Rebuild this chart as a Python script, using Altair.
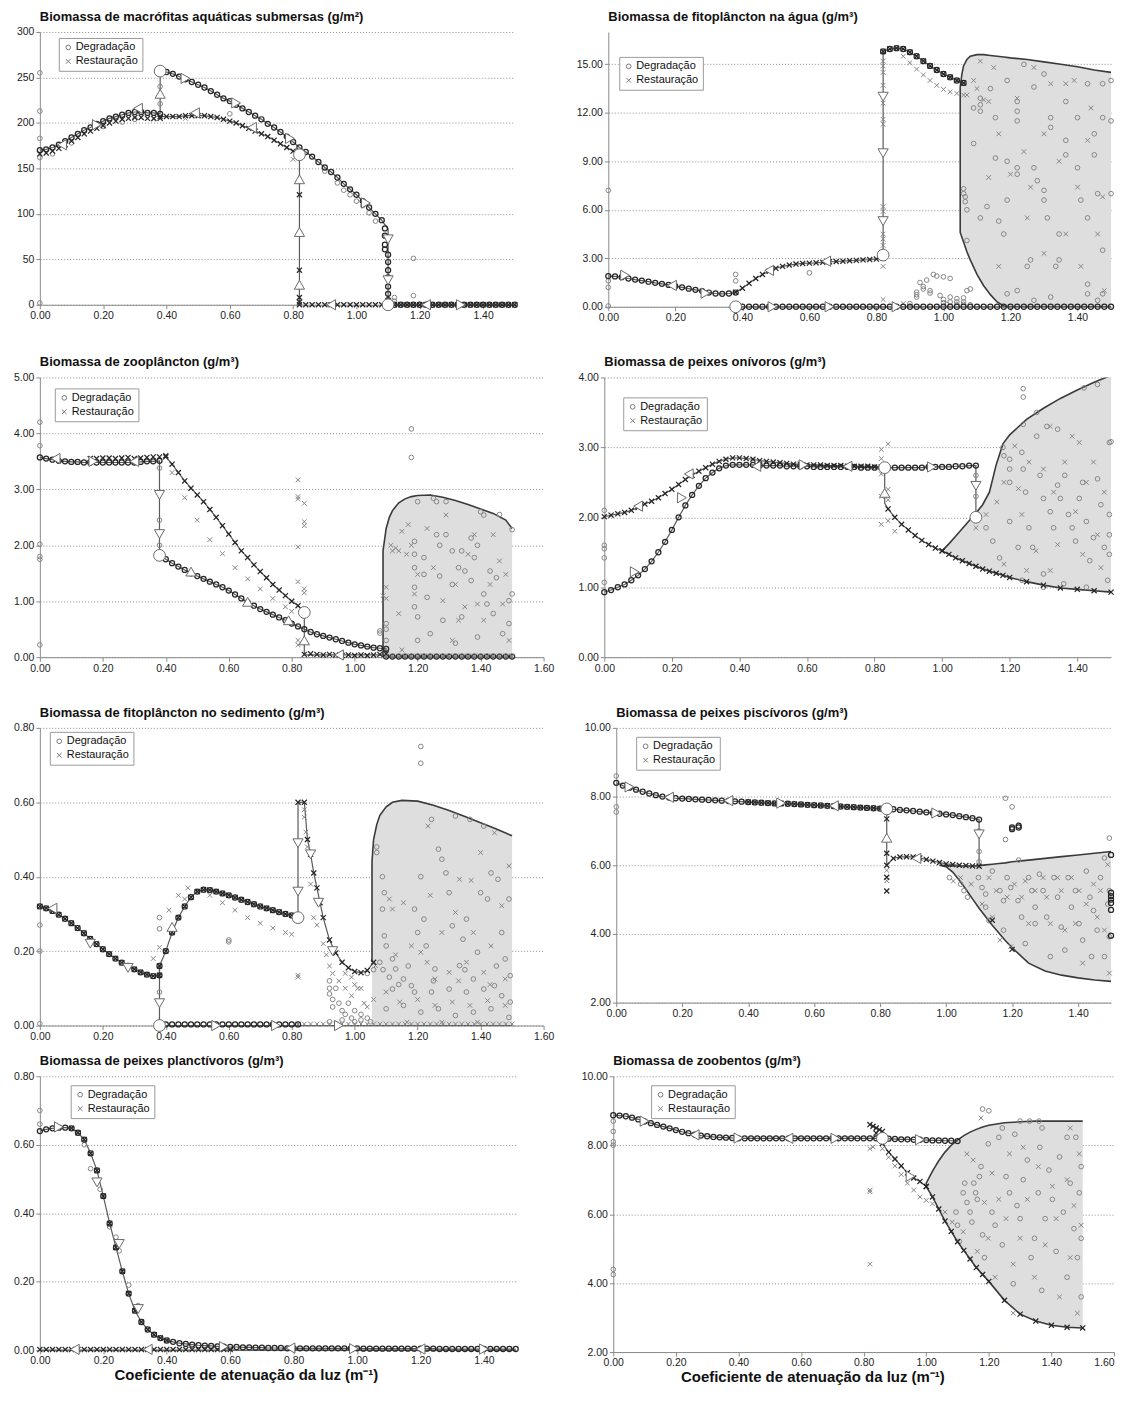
import altair as alt
import pandas as pd

FONT = "Liberation Sans"
XPATH = "M-1,-1L1,1M-1,1L1,-1"
DEG, RES = "Degradação", "Restauração"
DARK, LIGHT = "#262626", "#858585"

X_TICKS_15 = [0.0, 0.2, 0.4, 0.6, 0.8, 1.0, 1.2, 1.4]
X_TICKS_16 = [0.0, 0.2, 0.4, 0.6, 0.8, 1.0, 1.2, 1.4, 1.6]

X_000_038 = [0.00, 0.02, 0.04, 0.06, 0.08, 0.10, 0.12, 0.14, 0.16, 0.18, 0.20, 0.22, 0.24, 0.26, 0.28, 0.30, 0.32, 0.34, 0.36, 0.38]
X_038_082 = [0.38, 0.40, 0.42, 0.44, 0.46, 0.48, 0.50, 0.52, 0.54, 0.56, 0.58, 0.60, 0.62, 0.64, 0.66, 0.68, 0.70, 0.72, 0.74, 0.76, 0.78, 0.80, 0.82]
X_082_150 = [0.82, 0.84, 0.86, 0.88, 0.90, 0.92, 0.94, 0.96, 0.98, 1.00, 1.02, 1.04, 1.06, 1.08, 1.10, 1.12, 1.14, 1.16, 1.18, 1.20, 1.22, 1.24, 1.26, 1.28, 1.30, 1.32, 1.34, 1.36, 1.38, 1.40, 1.42, 1.44, 1.46, 1.48, 1.50]
X_038_150 = X_038_082 + X_082_150[1:]
X_000_110 = X_000_038 + X_038_082[1:] + X_082_150[1:15]
X_000_150 = X_000_038 + X_038_082[1:] + X_082_150[1:]
X_000_082 = X_000_038 + X_038_082[1:]

# ---------------- Panel 1: macrófitas ----------------
P1_LOW_DEG = [170, 171, 173, 176, 180, 184, 188, 192, 195, 199, 202, 205, 207, 209, 211, 212, 212, 211, 211, 210]
P1_LOW_RES = [166, 167, 169, 172, 176, 180, 184, 188, 191, 194, 197, 200, 202, 204, 205, 206, 206, 205, 205, 205]
P1_UP_X = X_038_082[1:] + X_082_150[1:14]
P1_UP_DEG = [256, 254, 251, 248, 245, 242, 239, 235, 231, 227, 224, 220, 216, 212, 208, 204, 199, 195, 190, 185,
             179, 173, 168, 163, 157, 151, 146, 140, 133, 127, 121, 114, 107, 100, 93]
P1_MID_RES = [207, 207, 207, 207, 208, 208, 208, 208, 207, 206, 204, 202, 200, 197, 194, 191, 188, 185, 181, 177, 173, 169, 165]
P1_DROP_DEG = [(1.09, 84), (1.09, 76), (1.09, 66), (1.09, 61), (1.10, 55), (1.10, 47), (1.10, 38), (1.10, 30), (1.10, 20), (1.10, 12), (1.10, 5)]
P1_JUMP_RES = [(0.82, 121), (0.82, 38), (0.82, 8), (0.82, 3)]
P1_SC_DEG = [(0.00, 255), (0.00, 213), (0.00, 183), (0.00, 162), (0.00, 2), (0.60, 210), (1.18, 51), (1.18, 10), (1.12, 8),
             (1.12, 4), (0.38, 240), (0.38, 221), (0.94, 134), (0.96, 126), (0.98, 121), (1.00, 114), (1.02, 109), (1.04, 101),
             (1.06, 92), (0.90, 147), (0.30, 204), (0.26, 201), (0.20, 196), (0.10, 178), (0.04, 166)]
P1_SC_RES = [(0.80, 160), (0.46, 205), (0.36, 204)]
P1_TRI = [(0.07, 176, "L"), (0.18, 198, "R"), (0.31, 216, "L"), (0.38, 232, "U"), (0.46, 249, "R"), (0.62, 222, "R"),
          (0.79, 183, "R"), (1.03, 112, "R"), (1.10, 72, "D"), (1.10, 27, "D"), (0.92, 0, "L"), (1.22, 0, "L"),
          (1.33, 0, "R"), (0.82, 22, "U"), (0.82, 80, "U"), (0.82, 138, "U"), (0.49, 211, "L"), (0.67, 195, "L")]
P1_BIG = [(0.38, 257), (0.82, 165), (1.10, 0)]

# ---------------- Panel 2: fitoplâncton na água ----------------
P2_LOW_DEG = [1.9, 1.88, 1.83, 1.75, 1.68, 1.62, 1.55, 1.48, 1.42, 1.35, 1.27, 1.2, 1.12, 1.05, 0.97, 0.88, 0.82, 0.8, 0.82, 0.88]
P2_RISE_RES = [0.9, 1.15, 1.45, 1.75, 2.0, 2.2, 2.38, 2.5, 2.58, 2.64, 2.68, 2.7, 2.72, 2.75, 2.78, 2.8, 2.82, 2.85, 2.87, 2.9, 2.92, 2.95, 3.0]
P2_UP_X = X_082_150[:13]
P2_UP_Y = [15.8, 15.95, 16.0, 15.95, 15.75, 15.5, 15.2, 14.9, 14.65, 14.4, 14.2, 14.0, 13.85]
P2_UP2_X = X_082_150[3:13]
P2_UP2_RES = [15.5, 15.1, 14.7, 14.35, 14.0, 13.7, 13.45, 13.3, 13.2, 13.1]
P2_JUMP_RES = [(0.82, 15.2), (0.82, 14.9), (0.82, 14.5), (0.82, 13.7), (0.82, 12.6), (0.82, 11.6), (0.82, 11.3), (0.82, 6.2),
               (0.82, 5.9), (0.82, 4.5), (0.82, 4.2), (0.82, 3.8), (0.82, 2.5), (0.82, 0.45), (0.88, 0.2)]
P2_BUMP_DEG = [(0.92, 0.9), (0.92, 0.75), (0.92, 0.6), (0.93, 1.5), (0.94, 1.25), (0.94, 1.1), (0.95, 1.65), (0.96, 1.0),
               (0.96, 0.85), (0.97, 2.0), (0.98, 1.9), (0.99, 0.7), (1.00, 1.85), (1.00, 0.45), (1.00, 0.25), (1.01, 0.15),
               (1.02, 1.75), (1.02, 0.6), (1.02, 0.3), (1.04, 0.5), (1.04, 0.3), (1.04, 0.12), (1.06, 0.55), (1.06, 0.3),
               (1.06, 0.15), (1.08, 1.1), (1.08, 0.12), (0.90, 0.2), (0.00, 7.2), (0.00, 1.6), (0.00, 1.2), (0.00, 0.05),
               (0.38, 2.0), (0.38, 1.6), (0.60, 2.1)]
P2_REG_X = [1.05, 1.055, 1.06, 1.07, 1.08, 1.10, 1.12, 1.14, 1.16, 1.18, 1.20, 1.25, 1.30, 1.35, 1.40, 1.45, 1.50]
P2_REG_LO = [4.6, 4.3, 4.0, 3.4, 2.9, 2.0, 1.3, 0.75, 0.3, 0.05, 0, 0, 0, 0, 0, 0, 0]
P2_REG_HI = [13.6, 14.4, 14.9, 15.3, 15.5, 15.6, 15.6, 15.55, 15.5, 15.45, 15.4, 15.3, 15.15, 15.0, 14.85, 14.65, 14.5]
P2_REG_DEG = [(1.06, 7.3), (1.06, 7.0), (1.065, 6.8), (1.065, 6.5), (1.07, 6.0), (1.07, 4.1), (1.07, 1.0), (1.09, 10.1),
              (1.09, 12.3), (1.11, 12.9), (1.11, 12.5), (1.11, 12.1), (1.11, 5.5), (1.13, 6.2), (1.14, 13.5), (1.155, 11.7),
              (1.155, 9.2), (1.165, 5.3), (1.18, 4.5), (1.19, 14.0), (1.19, 9.0), (1.19, 6.6), (1.22, 12.7), (1.22, 12.1),
              (1.22, 11.5), (1.22, 8.6), (1.22, 8.2), (1.24, 15.0), (1.25, 2.5), (1.26, 2.9), (1.27, 13.6), (1.27, 8.6),
              (1.28, 7.8), (1.30, 14.4), (1.30, 7.2), (1.30, 6.6), (1.31, 5.5), (1.32, 11.7), (1.32, 11.1), (1.335, 2.5),
              (1.345, 2.9), (1.345, 4.5), (1.365, 12.7), (1.365, 10.3), (1.365, 9.4), (1.40, 11.7), (1.40, 8.6), (1.41, 6.6),
              (1.43, 13.8), (1.43, 5.5), (1.43, 1.4), (1.45, 10.7), (1.45, 9.4), (1.46, 7.0), (1.475, 13.8), (1.475, 11.7),
              (1.475, 3.5), (1.475, 0.8), (1.19, 0.8), (1.22, 1.0), (1.27, 0.4), (1.32, 0.6), (1.43, 0.8), (1.46, 0.4),
              (1.50, 14.0), (1.50, 11.5), (1.50, 7.0)]
P2_REG_RES = [(1.07, 13.1), (1.09, 14.0), (1.11, 15.2), (1.135, 12.7), (1.165, 10.7), (1.20, 8.2), (1.22, 12.9), (1.24, 9.6),
              (1.26, 7.4), (1.27, 14.8), (1.30, 3.3), (1.32, 13.8), (1.345, 9.0), (1.365, 4.5), (1.39, 14.0), (1.40, 7.4),
              (1.41, 2.5), (1.43, 10.3), (1.44, 12.3), (1.46, 4.5), (1.475, 6.8), (1.48, 1.0), (1.165, 2.5), (1.135, 8.0),
              (1.25, 5.5), (1.30, 10.7), (1.365, 13.8), (1.10, 13.5), (1.12, 12.8), (1.15, 14.8)]
P2_TRI = [(0.05, 1.95, "R"), (0.19, 1.32, "L"), (0.29, 0.84, "R"), (0.48, 2.25, "L"), (0.65, 2.82, "L"), (0.82, 13.0, "D"),
          (0.82, 9.5, "D"), (0.82, 5.3, "D"), (0.49, 0, "R"), (0.66, 0, "R"), (0.86, 0, "R")]
P2_BIG = [(0.38, 0), (0.82, 3.2)]

# ---------------- Panel 3: zooplâncton ----------------
P3_TOP_DEG = [3.57, 3.55, 3.53, 3.51, 3.5, 3.49, 3.49, 3.48, 3.48, 3.48, 3.48, 3.48, 3.48, 3.48, 3.48, 3.48, 3.49, 3.5, 3.5, 3.51]
P3_TOP_RES_X = X_000_038[8:] + [0.40]
P3_TOP_RES = [3.55, 3.55, 3.56, 3.56, 3.55, 3.56, 3.57, 3.55, 3.56, 3.57, 3.58, 3.58, 3.6]
P3_DESC_X = X_038_082[1:] + [0.84]
P3_DESC_RES = [3.58, 3.45, 3.3, 3.15, 3.02, 2.9, 2.78, 2.64, 2.5, 2.35, 2.2, 2.05, 1.9, 1.78, 1.65, 1.53, 1.42, 1.3, 1.2, 1.1, 1.0, 0.92, 0.82]
P3_DESC2_X = [0.42, 0.46, 0.50, 0.54, 0.58, 0.62, 0.66, 0.70, 0.74, 0.78, 0.80]
P3_DESC2_RES = [3.3, 2.85, 2.45, 2.1, 1.85, 1.6, 1.4, 1.22, 1.05, 0.9, 0.82]
P3_LOWB_X = X_038_082 + X_082_150[1:15]
P3_LOWB_DEG = [1.82, 1.75, 1.68, 1.62, 1.56, 1.5, 1.45, 1.4, 1.35, 1.3, 1.25, 1.19, 1.12, 1.05, 0.98, 0.92, 0.86, 0.81, 0.76, 0.71,
               0.66, 0.6, 0.55, 0.5, 0.45, 0.41, 0.38, 0.35, 0.32, 0.29, 0.26, 0.23, 0.21, 0.19, 0.17, 0.16, 0.15]
P3_NZ_X = X_082_150[1:15]
P3_NZ_RES = [0.05, 0.06, 0.05, 0.04, 0.05, 0.04, 0.03, 0.04, 0.03, 0.04, 0.03, 0.04, 0.05, 0.06]
P3_OUT_DEG = [(0.00, 4.2), (0.00, 3.78), (0.00, 2.02), (0.00, 1.8), (0.00, 1.75), (0.00, 0.22), (1.18, 4.08), (1.18, 3.57),
              (0.38, 3.38), (0.38, 2.45), (0.38, 2.0), (1.08, 0.47), (1.08, 0.43), (1.10, 0.6), (1.10, 0.5), (1.10, 0.3)]
P3_OUT_RES = [(0.82, 3.17), (0.82, 2.87), (0.82, 2.83), (0.82, 1.97), (0.82, 1.35), (0.82, 0.3), (0.82, 0.22), (0.84, 2.75),
              (0.84, 2.42), (0.84, 2.35), (0.84, 1.22), (0.84, 1.15), (1.10, 1.25), (1.09, 1.1), (1.10, 1.05)]
P3_REG_X = [1.09, 1.10, 1.11, 1.12, 1.14, 1.16, 1.18, 1.20, 1.24, 1.28, 1.32, 1.36, 1.40, 1.44, 1.48, 1.50]
P3_REG_HI = [1.9, 2.3, 2.5, 2.62, 2.76, 2.83, 2.87, 2.89, 2.9, 2.86, 2.8, 2.73, 2.65, 2.57, 2.45, 2.3]
P3_REG_LO = [0, 0, 0, 0, 0, 0, 0, 0, 0, 0, 0, 0, 0, 0, 0, 0]
P3_REG_DEG = [(1.20, 2.78), (1.19, 2.07), (1.19, 1.84), (1.19, 1.6), (1.19, 1.25), (1.19, 0.9), (1.20, 0.72), (1.20, 0.3),
              (1.22, 1.78), (1.22, 1.48), (1.23, 1.07), (1.24, 0.42), (1.25, 2.84), (1.26, 2.78), (1.26, 2.19), (1.27, 2.0),
              (1.27, 1.45), (1.28, 0.66), (1.29, 2.78), (1.29, 2.19), (1.31, 1.9), (1.31, 1.3), (1.32, 0.25), (1.33, 1.6),
              (1.34, 1.9), (1.34, 0.72), (1.35, 1.54), (1.37, 2.13), (1.37, 1.37), (1.38, 1.78), (1.39, 2.0), (1.39, 0.36),
              (1.41, 2.54), (1.41, 1.13), (1.42, 0.95), (1.43, 1.54), (1.44, 0.78), (1.45, 1.42), (1.47, 0.42), (1.49, 0.6),
              (1.49, 1.01), (1.50, 1.13), (1.46, 2.55), (1.40, 2.6), (1.50, 2.28)]
P3_REG_RES = [(1.115, 2.0), (1.13, 1.95), (1.15, 2.25), (1.14, 0.78), (1.165, 1.84), (1.17, 2.37), (1.18, 2.0), (1.19, 1.13),
              (1.20, 1.48), (1.23, 2.3), (1.25, 1.6), (1.28, 1.01), (1.29, 2.54), (1.32, 1.3), (1.33, 0.66), (1.35, 0.9),
              (1.36, 1.84), (1.38, 2.19), (1.39, 0.95), (1.41, 0.66), (1.43, 1.3), (1.44, 2.19), (1.46, 1.72), (1.47, 0.95),
              (1.48, 1.48), (1.49, 0.3), (1.31, 0.3), (1.15, 0.13), (1.12, 1.9), (1.14, 1.9)]
P3_TRI = [(0.05, 3.55, "L"), (0.17, 3.5, "R"), (0.30, 3.5, "L"), (0.38, 2.9, "D"), (0.38, 2.2, "D"), (0.48, 1.53, "U"),
          (0.66, 0.99, "U"), (0.79, 0.66, "U"), (0.84, 0.3, "U"), (0.95, 0.04, "L")]
P3_BIG = [(0.38, 1.82), (0.84, 0.8)]

# ---------------- Panel 4: peixes onívoros ----------------
P4_RES_Y = [2.01, 2.03, 2.05, 2.07, 2.1, 2.14, 2.19, 2.23, 2.28, 2.34, 2.4, 2.47, 2.54, 2.6, 2.66, 2.71, 2.76, 2.8, 2.83, 2.85, 2.85,
            2.84, 2.83, 2.81, 2.8, 2.79, 2.78, 2.77, 2.76, 2.76, 2.75, 2.75, 2.75, 2.74, 2.74, 2.74, 2.73, 2.73, 2.73, 2.73, 2.72, 2.72]
P4_DEG_Y = [0.93, 0.96, 1.0, 1.04, 1.1, 1.17, 1.26, 1.37, 1.5, 1.65, 1.82, 2.0, 2.17, 2.32, 2.45, 2.56, 2.64, 2.7, 2.74, 2.75, 2.75,
            2.75, 2.75, 2.74, 2.74, 2.74, 2.74, 2.73, 2.73, 2.73, 2.73, 2.72, 2.72, 2.72, 2.72, 2.72, 2.72, 2.72, 2.71, 2.71, 2.71, 2.71,
            2.71, 2.71, 2.71, 2.71, 2.71, 2.71, 2.72, 2.72, 2.72, 2.72, 2.73, 2.73, 2.74, 2.74]
P4_LOWB_X = X_082_150[1:10]
P4_LOWB_RES = [2.12, 2.0, 1.9, 1.82, 1.74, 1.67, 1.61, 1.56, 1.52]
P4_REG_X = [1.00, 1.02, 1.04, 1.06, 1.08, 1.10, 1.12, 1.14, 1.16, 1.18, 1.20, 1.25, 1.30, 1.35, 1.40, 1.45, 1.50]
P4_REG_LO = [1.52, 1.47, 1.42, 1.38, 1.34, 1.3, 1.26, 1.23, 1.2, 1.17, 1.14, 1.08, 1.03, 0.99, 0.97, 0.95, 0.93]
P4_REG_HI = [1.52, 1.62, 1.73, 1.84, 1.95, 2.06, 2.18, 2.36, 2.75, 3.05, 3.18, 3.4, 3.56, 3.7, 3.82, 3.93, 4.03]
P4_OUT_DEG = [(0.00, 2.1), (0.00, 1.6), (0.00, 1.55), (0.00, 1.42), (0.00, 1.07), (1.24, 3.84), (1.24, 3.72), (1.24, 3.33),
              (1.28, 3.5), (1.18, 3.0), (1.10, 2.3), (1.10, 2.6), (1.50, 3.08), (1.46, 3.9), (1.42, 3.85)]
P4_OUT_RES = [(0.82, 2.97), (0.84, 3.05), (0.82, 2.84), (0.82, 2.62), (0.84, 2.4), (0.82, 1.9), (0.84, 1.95), (0.82, 2.3),
              (0.86, 1.8), (0.84, 2.25)]
P4_REG_DEG = [(1.183, 2.88), (1.20, 2.83), (1.20, 2.69), (1.20, 2.5), (1.20, 1.94), (1.225, 1.57), (1.236, 2.93), (1.24, 2.69),
              (1.247, 2.36), (1.257, 1.85), (1.268, 1.57), (1.28, 3.16), (1.29, 2.6), (1.30, 2.27), (1.30, 1.19), (1.31, 3.3),
              (1.32, 2.08), (1.33, 1.85), (1.342, 3.26), (1.342, 2.46), (1.35, 2.27), (1.363, 2.6), (1.374, 2.04), (1.385, 1.85),
              (1.395, 1.66), (1.406, 2.27), (1.416, 2.5), (1.427, 1.94), (1.437, 1.38), (1.448, 1.71), (1.46, 2.55), (1.47, 2.18),
              (1.48, 1.57), (1.49, 1.1), (1.495, 3.07), (1.495, 2.04), (1.495, 1.75), (1.495, 1.47), (1.236, 1.1), (1.30, 1.0),
              (1.36, 1.05), (1.427, 1.0), (1.13, 1.85), (1.15, 1.66), (1.17, 1.42)]
P4_REG_RES = [(1.10, 1.85), (1.13, 2.04), (1.162, 2.22), (1.183, 2.5), (1.215, 3.02), (1.226, 2.41), (1.236, 2.04), (1.257, 2.79),
              (1.278, 1.52), (1.30, 2.69), (1.32, 3.3), (1.33, 2.36), (1.342, 1.61), (1.363, 2.79), (1.385, 3.16), (1.395, 2.08),
              (1.406, 3.07), (1.416, 1.47), (1.427, 2.5), (1.448, 2.79), (1.46, 1.75), (1.47, 1.28), (1.48, 2.36), (1.183, 1.33),
              (1.25, 1.24), (1.32, 1.24)]
P4_TRI = [(0.09, 1.22, "R"), (0.23, 2.28, "R"), (0.10, 2.16, "L"), (0.25, 2.62, "L"), (0.45, 2.73, "L"), (0.59, 2.75, "R"),
          (0.72, 2.73, "L"), (0.97, 2.72, "R"), (1.10, 2.45, "D"), (0.83, 2.35, "U")]
P4_BIG = [(0.83, 2.71), (1.10, 2.0)]

# ---------------- Panel 5: fitoplâncton no sedimento ----------------
P5_LEFT_Y = [0.32, 0.315, 0.308, 0.298, 0.287, 0.275, 0.262, 0.248, 0.233, 0.219, 0.205, 0.192, 0.18, 0.169, 0.16, 0.151, 0.143, 0.137, 0.133, 0.135]
P5_RISE_Y = [0.16, 0.2, 0.25, 0.29, 0.32, 0.345, 0.36, 0.365, 0.364, 0.36, 0.355, 0.35, 0.344, 0.338, 0.332, 0.326, 0.32, 0.315, 0.31, 0.305, 0.3, 0.296, 0.292]
P5_RISE2_X = [0.46, 0.50, 0.54, 0.58, 0.62, 0.66, 0.70, 0.74, 0.78, 0.80]
P5_RISE2_RES = [0.34, 0.36, 0.35, 0.33, 0.31, 0.29, 0.275, 0.262, 0.25, 0.245]
P5_PEAK_X = [0.82, 0.84, 0.85, 0.86, 0.87, 0.88, 0.89, 0.90, 0.92, 0.94, 0.96, 0.98, 1.00, 1.02, 1.04, 1.06]
P5_PEAK_Y = [0.6, 0.6, 0.5, 0.46, 0.41, 0.37, 0.33, 0.29, 0.23, 0.195, 0.17, 0.155, 0.145, 0.142, 0.148, 0.17]
P5_OUT_DEG = [(0.00, 0.27), (0.00, 0.2), (0.00, 0.005), (0.38, 0.29), (0.38, 0.26), (0.38, 0.09), (0.60, 0.23), (0.60, 0.225),
              (1.21, 0.75), (1.21, 0.705), (0.92, 0.12), (0.92, 0.1), (0.92, 0.085), (0.93, 0.07), (0.93, 0.05), (0.94, 0.1),
              (0.95, 0.06), (0.96, 0.04), (0.97, 0.03), (0.98, 0.06), (0.99, 0.02), (1.00, 0.04), (1.00, 0.01), (1.02, 0.03),
              (1.02, 0.015), (1.04, 0.02), (1.05, 0.01), (0.92, 0.01), (0.96, 0.015), (1.04, 0.14), (1.06, 0.15)]
P5_OUT_RES = [(0.82, 0.13), (0.82, 0.135), (0.38, 0.21), (0.36, 0.18), (0.41, 0.31), (0.44, 0.35), (0.47, 0.37), (1.00, 0.11),
              (1.02, 0.1), (0.99, 0.13), (0.97, 0.14), (1.04, 0.05), (1.06, 0.07), (0.84, 0.58), (0.84, 0.56), (0.845, 0.52),
              (0.85, 0.48), (0.86, 0.38), (0.87, 0.29), (0.88, 0.27), (0.90, 0.22), (0.91, 0.19), (0.92, 0.16), (0.93, 0.14),
              (0.95, 0.12), (0.97, 0.10), (0.99, 0.08), (1.01, 0.10), (1.03, 0.06)]
P5_REG_X = [1.055, 1.06, 1.07, 1.08, 1.10, 1.12, 1.15, 1.20, 1.25, 1.30, 1.35, 1.40, 1.45, 1.50]
P5_REG_HI = [0.44, 0.5, 0.54, 0.565, 0.588, 0.6, 0.605, 0.603, 0.592, 0.578, 0.562, 0.545, 0.528, 0.51]
P5_REG_LO = [0, 0, 0, 0, 0, 0, 0, 0, 0, 0, 0, 0, 0, 0]
P5_REG_DEG = [(1.07, 0.48), (1.07, 0.465), (1.088, 0.40), (1.094, 0.357), (1.088, 0.313), (1.094, 0.241), (1.10, 0.214),
              (1.12, 0.179), (1.13, 0.152), (1.155, 0.125), (1.18, 0.107), (1.19, 0.313), (1.20, 0.25), (1.21, 0.40), (1.22, 0.286),
              (1.227, 0.214), (1.244, 0.554), (1.255, 0.152), (1.266, 0.474), (1.277, 0.447), (1.29, 0.41), (1.30, 0.357),
              (1.31, 0.268), (1.32, 0.563), (1.333, 0.161), (1.344, 0.232), (1.355, 0.286), (1.366, 0.554), (1.377, 0.125),
              (1.39, 0.197), (1.40, 0.357), (1.41, 0.536), (1.422, 0.34), (1.433, 0.41), (1.444, 0.107), (1.455, 0.393),
              (1.467, 0.25), (1.478, 0.179), (1.49, 0.34), (1.494, 0.134), (1.494, 0.063), (1.10, 0.045), (1.155, 0.054),
              (1.21, 0.036), (1.266, 0.045), (1.32, 0.027), (1.377, 0.036), (1.433, 0.045), (1.49, 0.022), (1.12, 0.098),
              (1.19, 0.09), (1.244, 0.09), (1.30, 0.098), (1.355, 0.09), (1.41, 0.098), (1.467, 0.08), (1.08, 0.17),
              (1.09, 0.15), (1.11, 0.13), (1.14, 0.11), (1.17, 0.16), (1.25, 0.12), (1.35, 0.15), (1.45, 0.16)]
P5_REG_RES = [(1.066, 0.161), (1.11, 0.34), (1.12, 0.313), (1.155, 0.33), (1.18, 0.214), (1.21, 0.197), (1.233, 0.536),
              (1.255, 0.125), (1.277, 0.25), (1.30, 0.143), (1.32, 0.304), (1.333, 0.393), (1.355, 0.17), (1.377, 0.25),
              (1.40, 0.465), (1.41, 0.143), (1.433, 0.214), (1.444, 0.518), (1.467, 0.322), (1.478, 0.125), (1.49, 0.429),
              (1.10, 0.09), (1.143, 0.063), (1.20, 0.07), (1.255, 0.054), (1.31, 0.063), (1.366, 0.054), (1.422, 0.067),
              (1.478, 0.054), (1.166, 0.009), (1.277, 0.009), (1.39, 0.009), (1.13, 0.19), (1.23, 0.17), (1.33, 0.12),
              (1.43, 0.11), (1.24, 0.35), (1.37, 0.39)]
P5_TRI = [(0.04, 0.315, "L"), (0.16, 0.22, "D"), (0.28, 0.155, "D"), (0.42, 0.265, "U"), (0.38, 0.06, "D"), (0.82, 0.49, "D"),
          (0.82, 0.36, "D"), (0.86, 0.46, "D"), (0.885, 0.33, "D"), (0.93, 0.2, "D"), (0.56, 0, "R"), (0.75, 0, "R"), (0.95, 0, "R")]
P5_BIG = [(0.38, 0), (0.82, 0.29)]

# ---------------- Panel 6: peixes piscívoros ----------------
P6_UP_Y = [8.40, 8.32, 8.26, 8.2, 8.14, 8.09, 8.04, 8.0, 7.97, 7.95, 7.94, 7.93, 7.92, 7.91, 7.9, 7.89, 7.88, 7.87, 7.86, 7.85,
           7.84, 7.83, 7.82, 7.81, 7.8, 7.8, 7.79, 7.78, 7.77, 7.76, 7.75, 7.74, 7.73, 7.72, 7.71, 7.7, 7.69, 7.68, 7.67, 7.66,
           7.65, 7.64, 7.63, 7.61, 7.6, 7.58, 7.56, 7.54, 7.52, 7.5, 7.48, 7.46, 7.43, 7.4, 7.37, 7.33]
P6_LOW_X = X_082_150[:15]
P6_LOW_RES = [6.0, 6.2, 6.24, 6.25, 6.24, 6.21, 6.17, 6.12, 6.08, 6.04, 6.02, 6.0, 5.99, 5.98, 5.97]
P6_REG_X = [0.98, 1.00, 1.02, 1.04, 1.06, 1.08, 1.10, 1.12, 1.14, 1.16, 1.18, 1.20, 1.25, 1.30, 1.35, 1.40, 1.45, 1.50]
P6_REG_LO = [6.0, 5.96, 5.8, 5.56, 5.3, 5.02, 4.75, 4.5, 4.25, 4.03, 3.8, 3.6, 3.15, 2.92, 2.8, 2.72, 2.66, 2.62]
P6_REG_HI = [6.0, 5.99, 5.98, 5.98, 5.98, 5.98, 5.99, 6.01, 6.03, 6.05, 6.07, 6.1, 6.15, 6.2, 6.25, 6.3, 6.35, 6.4]
P6_OUT_DEG = [(0.00, 8.6), (0.00, 7.7), (0.00, 7.55), (1.18, 7.95), (1.18, 6.75), (1.20, 7.7), (1.22, 6.15), (1.10, 7.0),
              (1.10, 6.4), (1.10, 6.1)]
P6_DARK_DEG = [(1.20, 7.1), (1.20, 7.05), (1.22, 7.15), (1.22, 7.1), (1.50, 5.2), (1.50, 5.1), (1.50, 5.0), (1.50, 4.9),
               (1.50, 4.7), (1.50, 3.95), (1.50, 6.3)]
P6_DARK_RES = [(0.82, 7.35), (0.82, 6.35), (0.82, 5.65), (0.82, 5.25), (1.20, 3.55), (1.14, 4.4)]
P6_OUT_RES = [(0.82, 5.85), (0.82, 5.55)]
P6_REG_DEG = [(1.01, 5.64), (1.044, 5.45), (1.054, 5.26), (1.065, 5.07), (1.098, 5.64), (1.109, 5.35), (1.12, 5.16), (1.12, 4.78),
              (1.13, 4.39), (1.14, 5.83), (1.163, 5.26), (1.174, 4.97), (1.174, 4.11), (1.185, 5.64), (1.196, 5.35), (1.218, 4.97),
              (1.229, 4.49), (1.24, 3.72), (1.25, 5.64), (1.26, 5.26), (1.27, 4.78), (1.27, 4.3), (1.283, 5.74), (1.294, 5.26),
              (1.305, 4.49), (1.316, 3.34), (1.327, 5.64), (1.338, 5.07), (1.349, 4.2), (1.36, 3.53), (1.37, 5.64), (1.38, 4.78),
              (1.392, 5.26), (1.403, 4.3), (1.414, 3.82), (1.425, 5.83), (1.436, 5.07), (1.441, 3.34), (1.447, 4.68), (1.458, 4.11),
              (1.468, 5.64), (1.48, 6.21), (1.48, 3.34), (1.49, 4.87), (1.495, 5.26), (1.495, 6.79), (1.495, 3.92)]
P6_REG_RES = [(1.022, 5.54), (1.044, 5.64), (1.076, 5.45), (1.109, 4.87), (1.13, 5.64), (1.14, 4.49), (1.152, 5.26), (1.163, 3.82),
              (1.185, 5.07), (1.196, 3.63), (1.207, 5.45), (1.229, 5.07), (1.24, 5.54), (1.25, 4.3), (1.27, 5.26), (1.294, 5.64),
              (1.305, 5.07), (1.316, 4.3), (1.338, 5.64), (1.349, 5.26), (1.36, 4.11), (1.38, 5.64), (1.392, 4.3), (1.403, 5.26),
              (1.414, 3.15), (1.425, 4.87), (1.447, 5.45), (1.458, 4.49), (1.468, 5.26), (1.48, 4.11), (1.49, 6.02), (1.495, 2.86)]
P6_TRI = [(0.04, 8.28, "R"), (0.16, 7.98, "L"), (0.34, 7.88, "L"), (0.50, 7.81, "R"), (0.66, 7.73, "L"), (0.97, 7.52, "R"),
          (1.10, 6.9, "D"), (0.82, 6.8, "U"), (0.91, 6.2, "L")]
P6_BIG = [(0.82, 7.64)]

# ---------------- Panel 7: peixes planctívoros ----------------
P7_Y = [0.64, 0.645, 0.648, 0.65, 0.65, 0.648, 0.635, 0.615, 0.575, 0.525, 0.45, 0.37, 0.3, 0.23, 0.165, 0.115, 0.082, 0.06, 0.045, 0.035,
        0.028, 0.024, 0.02, 0.018, 0.016, 0.014, 0.013, 0.012, 0.011, 0.01, 0.009, 0.009, 0.008, 0.008, 0.007, 0.007, 0.006, 0.006, 0.006, 0.005,
        0.005, 0.005, 0.005, 0.005, 0.005, 0.005, 0.005, 0.005, 0.005, 0.005, 0.005, 0.004, 0.004, 0.004, 0.004, 0.004, 0.004, 0.004, 0.004,
        0.004, 0.004, 0.004, 0.004, 0.003, 0.003, 0.003, 0.003, 0.003, 0.003, 0.003, 0.003, 0.003, 0.003, 0.003, 0.003, 0.003]
P7_ZERO_X = X_000_038 + X_038_082[1:12]
P7_OUT_DEG = [(0.00, 0.70), (0.00, 0.66), (0.16, 0.53), (0.19, 0.47), (0.22, 0.36), (0.25, 0.29), (0.28, 0.19), (0.31, 0.13),
              (0.14, 0.6), (0.24, 0.33)]
P7_TRI = [(0.06, 0.652, "R"), (0.18, 0.49, "D"), (0.25, 0.31, "D"), (0.31, 0.12, "D"), (0.11, 0.002, "L"), (0.34, 0.002, "L"),
          (0.58, 0.01, "R"), (0.79, 0.006, "L"), (0.99, 0.004, "R"), (1.20, 0.003, "L"), (1.40, 0.003, "R")]
P7_BIG = []

# ---------------- Panel 8: zoobentos ----------------
P8_TOP_Y = [8.87, 8.86, 8.84, 8.8, 8.75, 8.69, 8.64, 8.59, 8.54, 8.49, 8.44, 8.39, 8.35, 8.31, 8.28, 8.26, 8.24, 8.23, 8.22, 8.21,
            8.2, 8.2, 8.2, 8.2, 8.2, 8.2, 8.2, 8.2, 8.2, 8.2, 8.2, 8.2, 8.2, 8.2, 8.2, 8.2, 8.2, 8.2, 8.2, 8.2, 8.2, 8.2, 8.2, 8.2,
            8.19, 8.18, 8.17, 8.17, 8.16, 8.16, 8.15, 8.14, 8.14, 8.13, 8.13, 8.12]
P8_LOW_X = X_082_150[2:10]
P8_LOW_RES = [8.05, 7.8, 7.6, 7.4, 7.2, 7.05, 6.95, 6.8]
P8_LOW2_X = X_082_150[2:11]
P8_LOW2_RES = [7.9, 7.65, 7.4, 7.15, 6.9, 6.7, 6.5, 6.4, 6.3]
P8_REG_X = [1.00, 1.02, 1.04, 1.06, 1.08, 1.10, 1.12, 1.14, 1.16, 1.18, 1.20, 1.25, 1.30, 1.35, 1.40, 1.45, 1.50]
P8_REG_LO = [6.8, 6.5, 6.15, 5.8, 5.5, 5.2, 4.95, 4.7, 4.45, 4.25, 4.05, 3.5, 3.1, 2.9, 2.78, 2.72, 2.7]
P8_REG_HI = [6.9, 7.25, 7.55, 7.8, 8.0, 8.15, 8.28, 8.38, 8.46, 8.53, 8.58, 8.65, 8.68, 8.7, 8.7, 8.7, 8.7]
P8_OUT_DEG = [(0.00, 8.7), (0.00, 8.4), (0.00, 8.1), (0.00, 8.0), (0.00, 4.4), (0.00, 4.25), (1.18, 9.05), (1.20, 9.0)]
P8_OUT_RES = [(0.82, 6.7), (0.82, 6.65), (0.82, 4.55), (0.82, 7.9), (0.83, 7.95)]
P8_DARK_RES = [(0.82, 8.6), (0.83, 8.55), (0.84, 8.5), (0.85, 8.45), (0.86, 8.4), (0.84, 8.35)]
P8_REG_DEG = [(1.095, 6.06), (1.10, 5.68), (1.106, 5.21), (1.118, 6.62), (1.123, 6.9), (1.13, 6.34), (1.14, 6.06), (1.146, 5.77),
              (1.152, 6.9), (1.158, 6.62), (1.163, 6.43), (1.17, 7.09), (1.175, 7.38), (1.18, 5.4), (1.186, 4.74), (1.198, 8.04),
              (1.21, 6.06), (1.22, 5.68), (1.232, 8.23), (1.243, 5.11), (1.255, 7.09), (1.266, 6.62), (1.278, 3.98), (1.283, 8.32),
              (1.29, 6.25), (1.30, 5.87), (1.31, 7.0), (1.323, 7.57), (1.335, 4.74), (1.346, 5.3), (1.358, 6.62), (1.363, 7.94),
              (1.369, 3.79), (1.38, 5.87), (1.392, 7.28), (1.403, 6.43), (1.415, 4.92), (1.426, 7.66), (1.438, 6.06), (1.45, 4.17),
              (1.46, 6.9), (1.472, 5.58), (1.478, 8.23), (1.483, 4.74), (1.489, 6.62), (1.495, 3.6), (1.495, 7.38), (1.495, 5.3),
              (1.243, 8.5), (1.37, 8.5), (1.45, 8.23), (1.30, 8.7), (1.33, 8.7), (1.36, 8.7)]
P8_REG_RES = [(1.06, 6.06), (1.083, 5.77), (1.118, 5.49), (1.13, 7.75), (1.15, 7.57), (1.163, 4.92), (1.186, 6.34), (1.198, 5.3),
              (1.21, 7.19), (1.22, 4.17), (1.232, 6.43), (1.255, 5.87), (1.266, 7.75), (1.278, 4.55), (1.30, 5.3), (1.31, 7.94),
              (1.323, 6.43), (1.346, 4.17), (1.358, 7.38), (1.38, 5.11), (1.403, 6.81), (1.415, 5.87), (1.426, 3.6), (1.45, 7.0),
              (1.46, 4.74), (1.472, 6.25), (1.483, 3.13), (1.489, 7.75), (1.495, 5.68), (1.175, 8.79), (1.278, 3.13), (1.46, 8.5)]
P8_TRI = [(0.10, 8.7, "R"), (0.26, 8.3, "L"), (0.40, 8.21, "R"), (0.56, 8.2, "L"), (0.71, 8.2, "R"), (0.98, 8.16, "R"), (0.95, 7.1, "R")]
P8_BIG = [(0.86, 8.2)]

DIRS = {"U": "triangle-up", "D": "triangle-down", "L": "triangle-left", "R": "triangle-right"}


def zp(xs, ys):
    return list(zip(xs, ys))


def flat(xs, y):
    return [(x, y) for x in xs]


def panel(p):
    xmax = p["xmax"]
    xsc = alt.Scale(domain=[0, xmax], nice=False, zero=False)
    ysc = alt.Scale(domain=p["ydom"], nice=False, zero=False)
    ax_kw = dict(values=X_TICKS_16 if xmax > 1.55 else X_TICKS_15, format=".2f", grid=False,
                 labelFlush=False, labelOverlap=False, tickSize=4)
    if p.get("lastright"):
        ax_kw["labelAlign"] = {"condition": {"test": "datum.value > 1.55", "value": "right"}, "value": "center"}
    xt = p.get("xtitle")
    if xt:
        ax_kw.update(titleFontSize=15, titleFontWeight="bold", titleX=p["titlex"], titlePadding=1,
                     titleColor="#111111", titleFont=FONT)
    xaxis = alt.Axis(**ax_kw)
    yaxis = alt.Axis(values=p["yticks"], format=p["yfmt"], grid=True, gridDash=[1, 2], gridColor="#8c8c8c",
                     tickSize=4, minExtent=p["yext"], maxExtent=p["yext"], labelFlush=False, labelOverlap=False)

    def ex(f="x"):
        return alt.X(f + ":Q", scale=xsc, axis=xaxis, title=xt)

    def ey(f="y"):
        return alt.Y(f + ":Q", scale=ysc, axis=yaxis, title=None)

    layers = []
    if p.get("region"):
        rx, rlo, rhi = p["region"]
        rdf = pd.DataFrame({"x": rx, "lo": rlo, "hi": rhi})
        layers.append(alt.Chart(rdf).mark_area(color="#dedede", clip=True).encode(x=ex(), y=ey("lo"), y2="hi:Q"))
        bdf = pd.DataFrame([{"x": x, "y": y, "i": i} for i, (x, y) in enumerate(p["boundary"])])
        layers.append(alt.Chart(bdf).mark_line(color="#3a3a3a", strokeWidth=1.6, clip=True)
                      .encode(x=ex(), y=ey(), order="i:Q"))
    prow = []
    for k, path in enumerate(p["paths"]):
        for i, (x, y) in enumerate(path):
            prow.append({"x": x, "y": y, "p": k, "i": i})
    layers.append(alt.Chart(pd.DataFrame(prow)).mark_line(color="#5a5a5a", strokeWidth=1.2)
                  .encode(x=ex(), y=ey(), detail="p:N", order="i:Q"))
    rows = []
    for pairs_, s, c in p["points"]:
        for x, y in pairs_:
            rows.append({"x": x, "y": y, "s": s, "c": c, "z": 26 if c == DARK else 22,
                         "w": 1.25 if c == DARK else 1.0})
    lx, ly = p["leg"]
    layers.append(alt.Chart(pd.DataFrame(rows)).mark_point(filled=False, opacity=1).encode(
        x=ex(), y=ey(),
        shape=alt.Shape("s:N", scale=alt.Scale(domain=[DEG, RES], range=["circle", XPATH]),
                        legend=alt.Legend(orient="none", legendX=lx, legendY=ly, title=None, labelFont=FONT,
                                          labelFontSize=11, labelColor="#111111", symbolSize=22,
                                          symbolStrokeColor="#7a7a7a", symbolStrokeWidth=1,
                                          symbolFillColor="white", padding=4, rowPadding=2,
                                          strokeColor="#9a9a9a", fillColor="white", labelOffset=2)),
        stroke=alt.Stroke("c:N", scale=None),
        size=alt.Size("z:Q", scale=None),
        strokeWidth=alt.StrokeWidth("w:Q", scale=None)))
    for d, shp in DIRS.items():
        t = [(x, y) for x, y, dd in p["tris"] if dd == d]
        if t:
            layers.append(alt.Chart(pd.DataFrame(t, columns=["x", "y"])).mark_point(
                shape=shp, filled=True, fill="white", stroke="#6a6a6a", strokeWidth=1, size=105, opacity=1)
                .encode(x=ex(), y=ey()))
    if p["big"]:
        layers.append(alt.Chart(pd.DataFrame(p["big"], columns=["x", "y"])).mark_point(
            shape="circle", filled=True, fill="white", stroke="#6a6a6a", strokeWidth=1, size=140, opacity=1)
            .encode(x=ex(), y=ey()))
    return alt.layer(*layers).properties(width=p["w"], height=p["h"],
                                         title=alt.TitleParams(p["title"], offset=p.get("toff", 3)))


XT = "Coeficiente de atenuação da luz  (m⁻¹)"

P1 = dict(title="Biomassa de macrófitas aquáticas submersas (g/m²)", w=477, h=274, xmax=1.5, ydom=[0, 300],
          yticks=[0, 50, 100, 150, 200, 250, 300], yfmt="d", yext=27, leg=(19, 6),
          points=[(P1_SC_DEG, DEG, LIGHT), (P1_SC_RES, RES, LIGHT),
                  (zp(X_000_038, P1_LOW_RES), RES, DARK), (zp(X_000_038, P1_LOW_DEG), DEG, DARK),
                  (zp(P1_UP_X, P1_UP_DEG), DEG, DARK), (P1_DROP_DEG, DEG, DARK),
                  (zp(X_038_082, P1_MID_RES), RES, DARK), (flat(X_082_150, 0), RES, DARK),
                  (flat(X_082_150[14:], 0), DEG, DARK), (P1_JUMP_RES, RES, DARK)],
          paths=[zp(X_000_038, P1_LOW_DEG) + [(0.38, 257)] + zp(P1_UP_X, P1_UP_DEG) + [(1.09, 88), (1.10, 84), (1.10, 0), (1.50, 0)],
                 [(0.82, 0)] + zp(X_038_082, P1_MID_RES)[::-1]],
          tris=P1_TRI, big=P1_BIG)

P2 = dict(title="Biomassa de fitoplâncton na água (g/m³)", w=505, h=276, xmax=1.5, ydom=[0, 17],
          yticks=[0, 3, 6, 9, 12, 15], yfmt=".2f", yext=32, leg=(11, 25), toff=8.5,
          region=(P2_REG_X, P2_REG_LO, P2_REG_HI),
          boundary=zp(P2_REG_X, P2_REG_HI)[::-1] + zp(P2_REG_X, P2_REG_LO),
          points=[(P2_REG_DEG, DEG, LIGHT), (P2_REG_RES, RES, LIGHT), (P2_BUMP_DEG, DEG, LIGHT),
                  (P2_JUMP_RES, RES, LIGHT), (zp(P2_UP2_X, P2_UP2_RES), RES, LIGHT),
                  (zp(X_000_038, P2_LOW_DEG), DEG, DARK), (zp(X_038_082, P2_RISE_RES), RES, DARK),
                  (zp(P2_UP_X, P2_UP_Y), RES, DARK), (zp(P2_UP_X, P2_UP_Y), DEG, DARK),
                  (flat(X_038_150, 0), DEG, DARK)],
          paths=[zp(X_000_038, P2_LOW_DEG), [(0.38, 0), (1.50, 0)],
                 zp(X_038_082, P2_RISE_RES) + [(0.82, 3.2), (0.82, 15.8)] + zp(P2_UP_X, P2_UP_Y)],
          tris=P2_TRI, big=P2_BIG)

P3 = dict(title="Biomassa de zooplâncton (g/m³)", w=506, h=281, xmax=1.6, ydom=[0, 5],
          yticks=[0, 1, 2, 3, 4, 5], yfmt=".2f", yext=27, leg=(15, 11),
          region=(P3_REG_X, P3_REG_LO, P3_REG_HI),
          boundary=[(1.09, 0)] + zp(P3_REG_X, P3_REG_HI),
          points=[(P3_REG_DEG, DEG, LIGHT), (P3_REG_RES, RES, LIGHT), (P3_OUT_DEG, DEG, LIGHT),
                  (P3_OUT_RES, RES, LIGHT), (zp(P3_DESC2_X, P3_DESC2_RES), RES, LIGHT),
                  (zp(X_000_038, P3_TOP_DEG), DEG, DARK), (zp(P3_TOP_RES_X, P3_TOP_RES), RES, DARK),
                  (zp(P3_DESC_X, P3_DESC_RES), RES, DARK), (zp(P3_LOWB_X, P3_LOWB_DEG), DEG, DARK),
                  (zp(P3_NZ_X, P3_NZ_RES), RES, DARK), (flat(X_082_150[14:], 0.01), DEG, DARK),
                  (flat(X_082_150[14:], 0.02), RES, LIGHT)],
          paths=[zp(X_000_038, P3_TOP_DEG) + [(0.38, 1.82)] + zp(P3_LOWB_X, P3_LOWB_DEG) + [(1.10, 0), (1.50, 0)],
                 [(1.10, 0.04), (0.84, 0.04), (0.84, 0.82)] + zp(P3_DESC_X, P3_DESC_RES)[::-1]],
          tris=P3_TRI, big=P3_BIG)

P4 = dict(title="Biomassa de peixes onívoros (g/m³)", w=509, h=281, xmax=1.5, ydom=[0, 4],
          yticks=[0, 1, 2, 3, 4], yfmt=".2f", yext=32, leg=(19, 20),
          region=(P4_REG_X, P4_REG_LO, P4_REG_HI),
          boundary=zp(P4_REG_X, P4_REG_HI)[::-1] + zp(P4_REG_X, P4_REG_LO),
          points=[(P4_REG_DEG, DEG, LIGHT), (P4_REG_RES, RES, LIGHT), (P4_OUT_DEG, DEG, LIGHT),
                  (P4_OUT_RES, RES, LIGHT),
                  (zp(X_000_082, P4_RES_Y), RES, DARK), (zp(X_000_110, P4_DEG_Y), DEG, DARK),
                  (zp(P4_LOWB_X, P4_LOWB_RES), RES, DARK), (zp(P4_REG_X, P4_REG_LO), RES, DARK)],
          paths=[zp(X_000_110, P4_DEG_Y) + [(1.10, 2.74), (1.10, 2.0)],
                 zp(X_000_082, P4_RES_Y) + [(0.83, 2.72), (0.83, 2.2)] + zp(P4_LOWB_X, P4_LOWB_RES)],
          tris=P4_TRI, big=P4_BIG)

P5 = dict(title="Biomassa de fitoplâncton no sedimento (g/m³)", w=506, h=299, xmax=1.6, ydom=[0, 0.8],
          yticks=[0, 0.2, 0.4, 0.6, 0.8], yfmt=".2f", yext=27, leg=(10, 4),
          region=(P5_REG_X, P5_REG_LO, P5_REG_HI),
          boundary=[(1.055, 0.17)] + zp(P5_REG_X, P5_REG_HI),
          points=[(P5_REG_DEG, DEG, LIGHT), (P5_REG_RES, RES, LIGHT), (P5_OUT_DEG, DEG, LIGHT),
                  (P5_OUT_RES, RES, LIGHT), (zp(P5_RISE2_X, P5_RISE2_RES), RES, LIGHT),
                  (flat(X_082_150, 0.004), RES, LIGHT),
                  (zp(X_000_038, P5_LEFT_Y), RES, DARK), (zp(X_000_038, P5_LEFT_Y), DEG, DARK),
                  (zp(X_038_082, P5_RISE_Y), RES, DARK), (zp(X_038_082, P5_RISE_Y), DEG, DARK),
                  (zp(P5_PEAK_X, P5_PEAK_Y), RES, DARK), (flat(X_038_082, 0.003), DEG, DARK)],
          paths=[zp(X_000_038, P5_LEFT_Y) + zp(X_038_082, P5_RISE_Y) + [(0.82, 0.29)] + zp(P5_PEAK_X, P5_PEAK_Y),
                 [(0.38, 0.16), (0.38, 0), (1.50, 0)]],
          tris=P5_TRI, big=P5_BIG)

P6 = dict(title="Biomassa de peixes piscívoros (g/m³)", w=497, h=276, xmax=1.5, ydom=[2, 10],
          yticks=[2, 4, 6, 8, 10], yfmt=".2f", yext=32, leg=(20, 9),
          region=(P6_REG_X, P6_REG_LO, P6_REG_HI),
          boundary=zp(P6_REG_X, P6_REG_HI)[::-1] + zp(P6_REG_X, P6_REG_LO),
          points=[(P6_REG_DEG, DEG, LIGHT), (P6_REG_RES, RES, LIGHT), (P6_OUT_DEG, DEG, LIGHT),
                  (P6_OUT_RES, RES, LIGHT),
                  (zp(X_000_110, P6_UP_Y), DEG, DARK), (zp(X_000_110[20:42], P6_UP_Y[20:42]), RES, DARK),
                  (zp(P6_LOW_X, P6_LOW_RES), RES, DARK), (P6_DARK_DEG, DEG, DARK), (P6_DARK_RES, RES, DARK)],
          paths=[zp(X_000_110, P6_UP_Y) + [(1.10, 6.0)],
                 [(0.82, 7.64)] + zp(P6_LOW_X, P6_LOW_RES)],
          tris=P6_TRI, big=P6_BIG)

P7 = dict(title="Biomassa de peixes planctívoros (g/m³)", w=478, h=275, xmax=1.5, ydom=[0, 0.8],
          yticks=[0, 0.2, 0.4, 0.6, 0.8], yfmt=".2f", yext=27, leg=(31, 9), xtitle=XT, titlex=207,
          points=[(P7_OUT_DEG, DEG, LIGHT),
                  (zp(X_000_150, P7_Y), DEG, DARK), (zp(X_000_150[5:21], P7_Y[5:21]), RES, DARK),
                  (flat(P7_ZERO_X, 0.0015), RES, DARK)],
          paths=[zp(X_000_150, P7_Y), [(0.0, 0.0), (1.5, 0.0)]],
          tris=P7_TRI, big=P7_BIG)

P8 = dict(title="Biomassa de zoobentos (g/m³)", w=503, h=277, xmax=1.6, ydom=[2, 10],
          yticks=[2, 4, 6, 8, 10], yfmt=".2f", yext=32, leg=(38, 9), xtitle=XT, titlex=200, lastright=True,
          region=(P8_REG_X, P8_REG_LO, P8_REG_HI),
          boundary=zp(P8_REG_X, P8_REG_HI)[::-1] + zp(P8_REG_X, P8_REG_LO),
          points=[(P8_REG_DEG, DEG, LIGHT), (P8_REG_RES, RES, LIGHT), (P8_OUT_DEG, DEG, LIGHT),
                  (P8_OUT_RES, RES, LIGHT), (zp(P8_LOW2_X, P8_LOW2_RES), RES, LIGHT),
                  (zp(X_000_110, P8_TOP_Y), DEG, DARK), (zp(P8_LOW_X, P8_LOW_RES), RES, DARK),
                  (zp(P8_REG_X, P8_REG_LO), RES, DARK), (P8_DARK_RES, RES, DARK)],
          paths=[zp(X_000_110, P8_TOP_Y), [(0.86, 8.2)] + zp(P8_LOW_X, P8_LOW_RES)],
          tris=P8_TRI, big=P8_BIG)


def row(a, b, s):
    return (alt.hconcat(panel(a), panel(b), spacing=s)
            .resolve_scale(shape="independent").resolve_legend(shape="independent"))


top = (alt.vconcat(row(P1, P2, 55), row(P3, P4, 18), row(P5, P6, 29), spacing=33)
       .resolve_scale(shape="independent").resolve_legend(shape="independent"))
chart = (alt.vconcat(top, row(P7, P8, 59), spacing=13)
         .resolve_scale(shape="independent").resolve_legend(shape="independent"))

chart = (chart.properties(padding={"left": 5, "top": -1, "right": 0, "bottom": 0})
         .configure_view(strokeWidth=0)
         .configure_axis(labelFont=FONT, labelFontSize=10.5, labelColor="#222222", domainColor="#8a8a8a",
                         tickColor="#8a8a8a", titleFont=FONT)
         .configure_title(font=FONT, fontSize=13, fontWeight="bold", anchor="start", frame="group",
                          color="#111111"))

chart.save("out.html", embed_options={"renderer": "svg", "actions": False})
